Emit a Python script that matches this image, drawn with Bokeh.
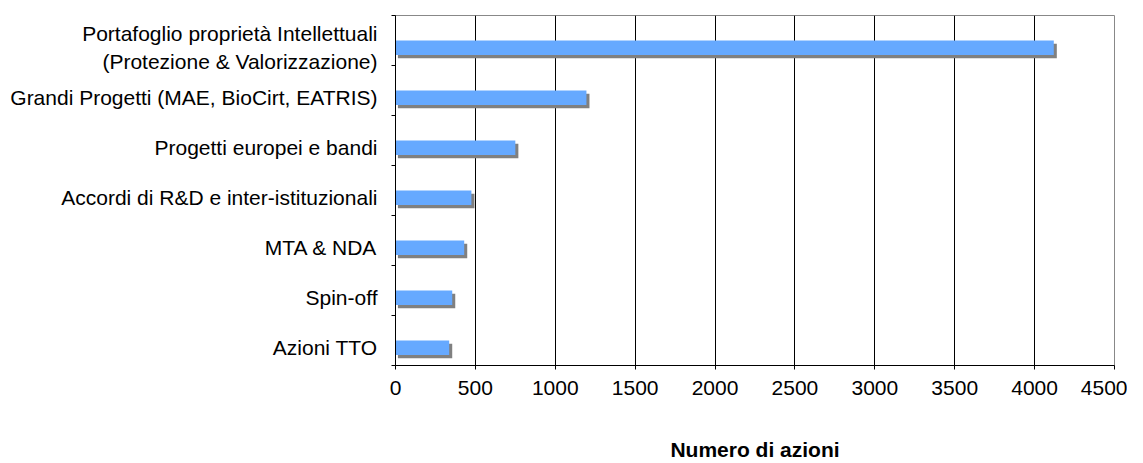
from bokeh.plotting import figure
from bokeh.models import Range1d, FixedTicker, ColumnDataSource
from bokeh.embed import file_html
from bokeh.resources import INLINE

# ---- data (top to bottom as in the reference) ----
categories = [
    "Portafoglio proprietà Intellettuali\n(Protezione & Valorizzazione)",
    "Grandi Progetti (MAE, BioCirt, EATRIS)",
    "Progetti europei e bandi",
    "Accordi di R&D e inter-istituzionali",
    "MTA & NDA",
    "Spin-off",
    "Azioni TTO",
]
values = [4120, 1195, 750, 475, 430, 355, 336]
x_ticks = [0, 500, 1000, 1500, 2000, 2500, 3000, 3500, 4000, 4500]
x_title = "Numero di azioni"

FONT = "Liberation Sans"
BLUE = "#66A9FF"
SHADOW = "#808080"

n = len(categories)
ypos = [n - 1 - i for i in range(n)]
bar_h = 0.29
band_shift = 0.145
boundaries = [k - 0.5 + band_shift for k in range(n + 1)]

src = ColumnDataSource(dict(
    y=ypos,
    v=values,
    sy=[y - 0.066 for y in ypos],
    sl=[15] * n,
    sr=[v + 19 for v in values],
))

p = figure(
    width=1127, height=463,
    output_backend="svg", toolbar_location=None,
    x_range=Range1d(0, 4500),
    y_range=Range1d(boundaries[0], boundaries[-1]),
    min_border_left=395, min_border_right=13,
    min_border_top=15, min_border_bottom=98,
    background_fill_color="white", border_fill_color="white",
)
p.outline_line_color = "#888888"
p.outline_line_width = 1

p.hbar(y="sy", left="sl", right="sr", height=bar_h, source=src,
       fill_color=SHADOW, line_color=None)
p.hbar(y="y", left=0, right="v", height=bar_h, source=src,
       fill_color=BLUE, line_color=None)

p.ygrid.grid_line_color = None
p.xgrid.ticker = FixedTicker(ticks=x_ticks[1:-1])
p.xgrid.grid_line_color = "black"
p.xgrid.grid_line_width = 1

xa = p.xaxis[0]
xa.ticker = FixedTicker(ticks=x_ticks)
xa.major_label_text_font = FONT
xa.major_label_text_font_size = "21px"
xa.major_label_text_color = "black"
xa.major_tick_in = 0
xa.major_tick_out = 4
xa.major_tick_line_color = "black"
xa.minor_tick_line_color = None
xa.axis_line_color = "black"
xa.major_label_standoff = 11
xa.axis_label = x_title
xa.axis_label_text_font = FONT
xa.axis_label_text_font_size = "21px"
xa.axis_label_text_font_style = "bold"
xa.axis_label_text_color = "black"
xa.axis_label_standoff = 40

ya = p.yaxis[0]
ya.ticker = FixedTicker(ticks=ypos, minor_ticks=boundaries)
ya.major_label_overrides = {y: c for y, c in zip(ypos, categories)}
ya.major_label_text_font = FONT
ya.major_label_text_font_size = "21px"
ya.major_label_text_color = "black"
ya.major_tick_line_color = None
ya.major_tick_in = 0
ya.major_tick_out = 0
ya.minor_tick_in = 0
ya.minor_tick_out = 4
ya.minor_tick_line_color = "black"
ya.axis_line_color = "black"
ya.major_label_standoff = 14

open("out.html", "w").write(file_html(p, INLINE))
